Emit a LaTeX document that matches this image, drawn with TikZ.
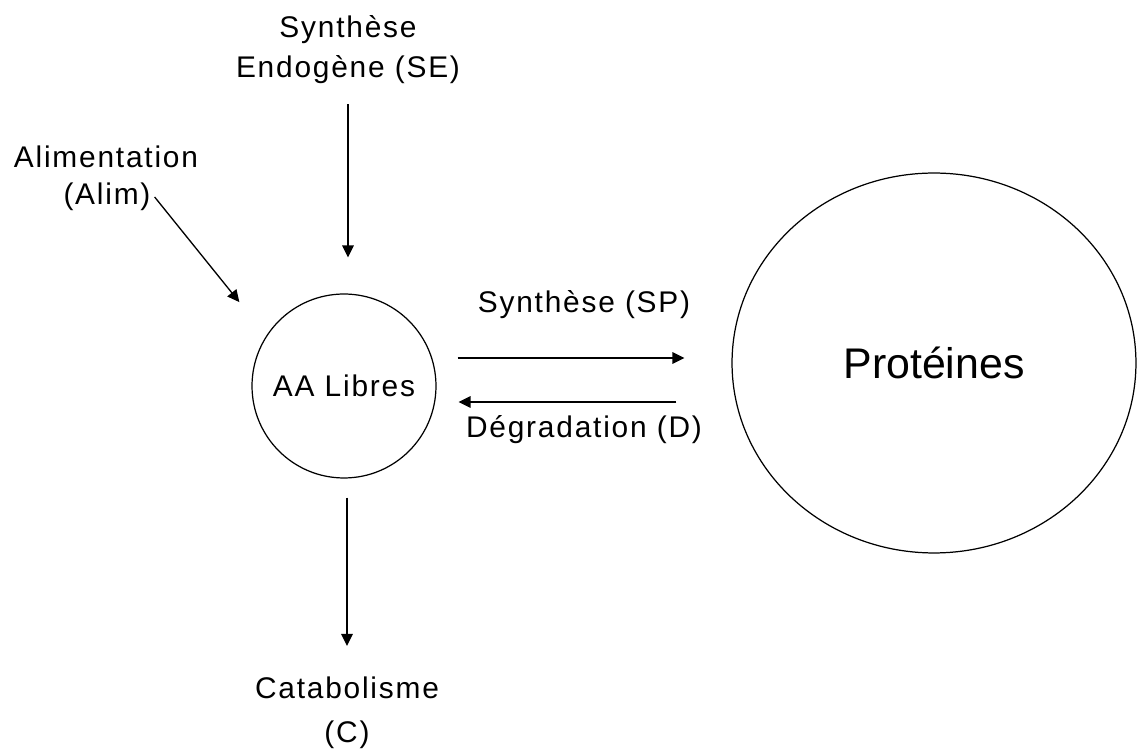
\documentclass[tikz,border=0pt]{standalone}
\usepackage{fontspec}
\setmainfont{Liberation Sans}
\newfontfamily\lblfont{Liberation Sans}[LetterSpace=6]
\usetikzlibrary{arrows.meta,shapes.geometric,positioning}

\begin{document}
\begin{tikzpicture}[x=0.02cm,y=-0.02cm,->,>={Triangle[length=2.4mm,width=2.3mm]},
                    line width=0.75pt,
                    lbl/.style={font=\lblfont\fontsize{17}{22.7}\selectfont,align=center,inner sep=2pt}]
  \tikzstyle{pool}=[lbl,circle,draw=black,line width=0.7pt,minimum size=3.68cm,inner sep=0pt]
  \tikzstyle{store}=[ellipse,draw=black,line width=0.7pt,minimum width=8.08cm,
                     minimum height=7.6cm,inner sep=0pt,font=\fontsize{24.4}{29}\selectfont]
  \useasboundingbox (0,0) rectangle (1137,749);

  \node[pool]  (aa)     at (344,386) {AA Libres};
  \node[store] (prot)   at (934,363) {Protéines};

  \node[lbl] (se)     at (348,50)  {Synthèse\\Endogène (SE)};
  \node[lbl] (alim)   at (106,157) {Alimentation};
  \node[lbl] (alimab) at (107,197) {(Alim)};
  \node[lbl,font=\lblfont\fontsize{17}{25}\selectfont] (cata) at (347,713) {Catabolisme\\(C)};

  \draw[shorten <=3.2mm,shorten >=7.2mm] (se.south) -- (se.south |- aa.north);
  \draw[shorten >=8.6mm] (alimab.east) -- (aa.147);
  \draw[shorten <=3.8mm,shorten >=5.4mm] (cata.north |- aa.south) -- (cata.north);

  \draw[shorten <=4.2mm,shorten >=9.4mm] ([yshift=5.6mm]aa.east) -- ([yshift=5.6mm]aa.east -| prot.west)
        node[lbl,midway,yshift=10.6mm] (sp) {Synthèse (SP)};
  \draw[shorten <=11mm,shorten >=4.4mm] ([yshift=-3.2mm]aa.east -| prot.west) -- ([yshift=-3.2mm]aa.east)
        node[lbl,midway,yshift=-5.6mm] (deg) {Dégradation (D)};
\end{tikzpicture}
\end{document}
